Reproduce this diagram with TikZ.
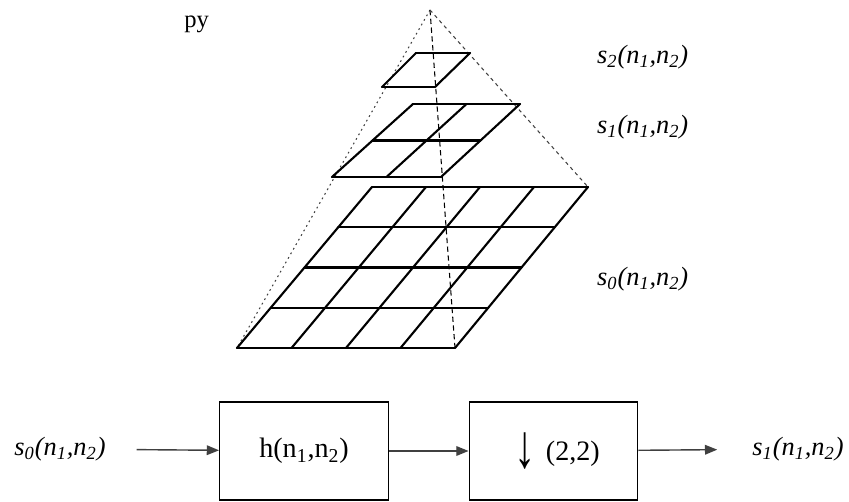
\documentclass[tikz,border=0pt]{standalone}
\usepackage{fontspec}
\usepackage{graphicx}
\setmainfont{Liberation Serif}
\usetikzlibrary{arrows.meta,calc}

\newcommand{\sig}[1]{\textit{s\textsubscript{#1}(n\textsubscript{1},n\textsubscript{2})}}
% griglia: angoli (bs, bd, as, ad) e numero di celle
\newcommand{\griglia}[5]{%
  \foreach \k in {0,...,#5} {
    \draw[linea] ($(#1)!\k/#5!(#3)$) -- ($(#2)!\k/#5!(#4)$);
    \draw[linea] ($(#1)!\k/#5!(#2)$) -- ($(#3)!\k/#5!(#4)$);
  }}

\begin{document}
\begin{tikzpicture}[x=0.02cm, y=-0.02cm,
  linea/.style={line width=1.2pt, line cap=round},
  lbl/.style={font=\fontsize{15}{18}\selectfont},
  blk/.style={draw, line width=0.8pt, minimum width=3.37cm, minimum height=1.96cm, font=\fontsize{16}{19}\selectfont},
  arr/.style={line width=0.8pt, black!75, -{Triangle[length=7pt,width=5.5pt]}}]
			\useasboundingbox (0,0) rectangle (849,502);
			
			% Titolo
			\node[anchor=base west, inner sep=0pt, font=\fontsize{14}{17}\selectfont] (titolo) at (184,28) {py};
			
			% Vertice e angoli dei livelli
			\coordinate (apice) at (430,10);
			\coordinate (b0) at (237,348);
			\coordinate (b1) at (455,348);
			\coordinate (b2) at (372,187);
			\coordinate (b3) at (588,187);
			\coordinate (m0) at (332,177);
			\coordinate (m1) at (441,177);
			\coordinate (m2) at (413,104);
			\coordinate (m3) at (520,104);
			\coordinate (t0) at (382,87);
			\coordinate (t1) at (435,87);
			\coordinate (t2) at (416,53);
			\coordinate (t3) at (470,53);
			
			% Spigoli della piramide
			\draw[line width=0.6pt, black!75, dash pattern=on 1pt off 2pt] (apice) -- (b0);
			\draw[line width=0.6pt, dash pattern=on 3pt off 2pt] (apice) -- (b1);
			\draw[line width=0.6pt, black!75, dash pattern=on 2pt off 2pt] (apice) -- (b3);
			
			% Livelli
			\griglia{b0}{b1}{b2}{b3}{4}
			\griglia{m0}{m1}{m2}{m3}{2}
			\griglia{t0}{t1}{t2}{t3}{1}
			
			% Etichette dei livelli
			\node[lbl, anchor=west] (l2) at (591,57) {\sig{2}};
			\node[lbl, anchor=west] (l1) at (591,127) {\sig{1}};
			\node[lbl, anchor=west] (l0) at (591,279) {\sig{0}};
			
			% Schema a blocchi
			\node[lbl] (in) at (60,449) {\sig{0}};
			\node[blk] (h) at (304,451) {h(n\textsubscript{1},n\textsubscript{2})};
			\node[blk] (dn) at (553.5,451) {\hspace{0.15cm}\raisebox{-4pt}{\scalebox{1.1}[1.6]{\fontsize{22}{22}\selectfont ↓}}\hspace{0.2cm}(2,2)};
			\node[lbl] (out) at (798,449) {\sig{1}};
			
			\draw[arr, shorten <=0.5cm] (in) -- (h);
			\draw[arr] (h) -- (dn);
			\draw[arr, shorten >=0.58cm] (dn) -- (out);
		\end{tikzpicture}
\end{document}
